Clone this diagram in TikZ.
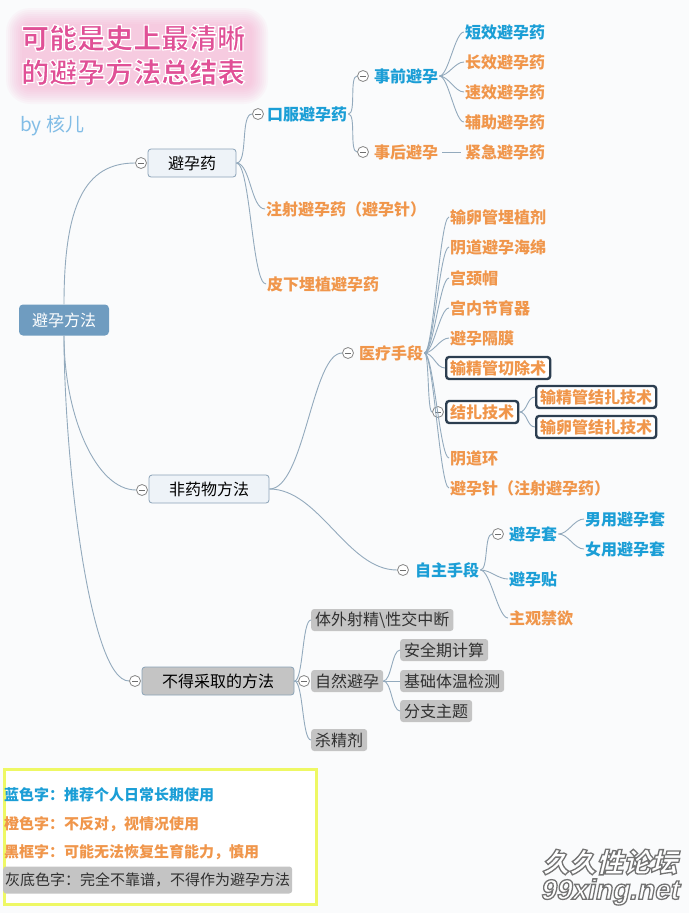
\documentclass[tikz,border=0pt]{standalone}
\usepackage{fontspec}
\setmainfont{Noto Sans CJK SC}
\newfontfamily\wmfont{Noto Sans CJK SC}[FakeSlant=0.25]
\newfontfamily\wmlat{Liberation Sans}[FakeSlant=0.2]
\definecolor{bg}{RGB}{250,251,252}
\definecolor{mblue}{RGB}{27,158,214}
\definecolor{morange}{RGB}{240,150,75}
\definecolor{linkc}{RGB}{147,170,189}
\definecolor{rootc}{RGB}{111,156,192}
\definecolor{lvl1}{RGB}{238,243,248}
\definecolor{lvl1d}{RGB}{139,163,183}
\definecolor{grayf}{RGB}{196,196,196}
\definecolor{gtext}{RGB}{48,48,48}
\definecolor{cring}{RGB}{135,135,135}
\definecolor{cminus}{RGB}{110,110,110}
\definecolor{darkb}{RGB}{44,62,80}
\definecolor{pinkt}{RGB}{224,80,150}
\definecolor{pinkg}{RGB}{246,140,190}
\definecolor{legy}{RGB}{238,248,100}
\definecolor{byc}{RGB}{130,189,230}
\tikzset{
  link/.style={draw=linkc, line width=0.9pt},
  ttl/.style={anchor=west, inner sep=0pt, font=\fontsize{28}{30}\selectfont\bfseries},
  rootbox/.style={rectangle, rounded corners=4pt, fill=rootc, text=white, minimum width=90pt, minimum height=31pt, font=\fontsize{16}{18}\selectfont},
  lvbox/.style={rectangle, rounded corners=3pt, fill=lvl1, draw=lvl1d, line width=0.8pt, minimum height=28pt, font=\fontsize{16}{18}\selectfont},
  lvgray/.style={lvbox, fill=grayf},
  bl/.style={anchor=west, inner sep=1pt, text=mblue, font=\fontsize{16}{18}\selectfont\bfseries},
  og/.style={anchor=west, inner sep=1pt, text=morange, font=\fontsize{16}{18}\selectfont\bfseries},
  boxed/.style={og, draw=darkb, line width=2.4pt, rounded corners=3pt, fill=white, inner xsep=4pt, minimum height=22pt, inner ysep=0pt},
  gbox/.style={anchor=west, rectangle, rounded corners=3pt, fill=grayf, text=gtext, inner xsep=4pt, inner ysep=0pt, minimum height=22pt, font=\fontsize{16}{18}\selectfont},
  collapse/.style={circle, draw=cring, fill=white, line width=0.8pt, minimum size=11pt, inner sep=0pt,
    path picture={\draw[cminus, line width=0.8pt] ([xshift=-3pt]path picture bounding box.center) -- ([xshift=3pt]path picture bounding box.center);}},
  leg/.style={anchor=west, inner sep=1pt, font=\fontsize{15}{17}\selectfont\bfseries},
  wm/.style={anchor=west, inner sep=0pt, text=white},
}
\newcommand\lnk[3][12]{\draw[link] (#2) .. controls +(#1,0) and +(-#1,0) .. (#3);}
\newcommand\stroked[1]{\special{pdf:literal direct 2 Tr 1.3 w 0.45 0.45 0.45 RG}#1\special{pdf:literal direct 0 Tr}}
\newcommand\whiteline[1]{\special{pdf:literal direct 2 Tr 1.2 w 1 1 1 RG}#1\special{pdf:literal direct 0 Tr}}
\begin{document}
\begin{tikzpicture}[x=1pt,y=-1pt]
\useasboundingbox (0,0) rectangle (689,913);
\fill[bg] (0,0) rectangle (689,913);

% title with glow
\foreach \r in {16,14,...,0} {
  \fill[pinkg, opacity=0.055, rounded corners={\r+8}] ({22-\r},{24-\r}) rectangle ({252+\r},{88+\r});
}
\node[ttl, text=pinkt] (title1) at (21,38) {\whiteline{可能是史上最清晰}};
\node[ttl, text=pinkt] (title2) at (21,72) {\whiteline{的避孕方法总结表}};
\node[anchor=west, inner sep=0pt, text=byc, font=\fontsize{19}{21}\selectfont] (by) at (20,126) {by 核儿};

% root
\node[rootbox] (root) at (64,320) {避孕方法};

% level 1
\node[lvbox, minimum width=88pt] (b1) at (192,163) {避孕药};
\node[lvbox, minimum width=120pt] (b2) at (209,489) {非药物方法};
\node[lvgray, minimum width=152pt] (b3) at (218,681) {不得采取的方法};
\node[collapse] (c1) at (141,163) {};
\node[collapse] (c2) at (142,490) {};
\node[collapse] (c3) at (135,681) {};
\draw[link] (root.north) .. controls +(0,-100) and +(-50,0) .. (c1.west);
\draw[link] (root.south) .. controls +(0,80) and +(-40,0) .. (c2.west);
\draw[link] (root.south) .. controls +(0,120) and +(-40,0) .. (c3.west);

% 避孕药 branch
\node[collapse] (c11) at (258,114) {};
\node[bl] (kf) at (266,114) {口服避孕药};
\node[og] (zs) at (265,209) {注射避孕药（避孕针）};
\node[og] (px) at (266,284) {皮下埋植避孕药};
\lnk[12]{b1.east}{c11.west}
\lnk[14]{b1.east}{zs.west}
\lnk[14]{b1.east}{px.west}

\node[collapse] (c111) at (363,76) {};
\node[collapse] (c112) at (363,152) {};
\node[bl] (sq) at (373,76) {事前避孕};
\node[og] (sh) at (373,152) {事后避孕};
\lnk[8]{kf.east}{c111.west}
\lnk[8]{kf.east}{c112.west}

\node[bl] (dx) at (464,32) {短效避孕药};
\node[og] (cx) at (464,62) {长效避孕药};
\node[og] (sx) at (464,92) {速效避孕药};
\node[og] (fz) at (464,122) {辅助避孕药};
\node[og] (jj) at (464,152) {紧急避孕药};
\foreach \n in {dx,cx,sx,fz} { \lnk[9]{sq.east}{\n.west} }
\draw[link] ([xshift=3pt]sh.east) -- ([xshift=-3pt]jj.west);

% 非药物方法 branch
\node[collapse] (c21) at (348,353) {};
\node[og] (yl) at (358,353) {医疗手段};
\node[collapse] (c22) at (403,570) {};
\node[bl] (zz) at (414,570) {自主手段};
\draw[link] (b2.east) .. controls +(35,0) and +(-30,0) .. (c21.west);
\draw[link] (b2.east) .. controls +(50,0) and +(-50,0) .. (c22.west);

\node[og] (m1) at (449,217) {输卵管埋植剂};
\node[og] (m2) at (449,247) {阴道避孕海绵};
\node[og] (m3) at (449,278) {宫颈帽};
\node[og] (m4) at (449,308) {宫内节育器};
\node[og] (m5) at (449,338) {避孕隔膜};
\node[boxed] (m6) at (445,368) {输精管切除术};
\node[collapse] (cjz) at (438,412) {};
\node[boxed] (m7) at (445,412) {结扎技术};
\node[og] (m8) at (449,458) {阴道环};
\node[og] (m9) at (449,488) {避孕针（注射避孕药）};
\foreach \n in {m1,m2,m3,m4,m5,m6,m8,m9} { \lnk[9]{yl.east}{\n.west} }
\lnk[5]{yl.east}{cjz.west}
\node[boxed] (jz1) at (535,397) {输精管结扎技术};
\node[boxed] (jz2) at (535,427) {输卵管结扎技术};
\lnk[8]{m7.east}{jz1.west}
\lnk[8]{m7.east}{jz2.west}

\node[collapse] (c221) at (498,534) {};
\node[bl] (byt) at (508,534) {避孕套};
\node[bl] (byt2) at (508,579) {避孕贴};
\node[og] (jy) at (508,618) {主观禁欲};
\lnk[8]{zz.east}{c221.west}
\lnk[10]{zz.east}{byt2.west}
\lnk[10]{zz.east}{jy.west}
\node[bl] (ny) at (584,519) {男用避孕套};
\node[bl] (vy) at (584,549) {女用避孕套};
\lnk[10]{byt.east}{ny.west}
\lnk[10]{byt.east}{vy.west}

% 不得采取的方法 branch
\node[gbox] (g1) at (311,620) {体外射精\textbackslash 性交中断};
\node[collapse] (c31) at (304,681) {};
\node[gbox] (g2) at (311,681) {自然避孕};
\node[gbox] (g3) at (311,740) {杀精剂};
\lnk[9]{b3.east}{g1.west}
\lnk[4]{b3.east}{c31.west}
\lnk[9]{b3.east}{g3.west}
\node[gbox] (g21) at (400,650) {安全期计算};
\node[gbox] (g22) at (400,681) {基础体温检测};
\node[gbox] (g23) at (400,711) {分支主题};
\lnk[8]{g2.east}{g21.west}
\lnk[8]{g2.east}{g22.west}
\lnk[8]{g2.east}{g23.west}

% legend
\draw[legy, line width=3pt, fill=white] (4,769) rectangle (316,904);
\node[leg, text=mblue] (l1) at (3,795) {蓝色字：推荐个人日常长期使用};
\node[leg, text=morange] (l2) at (3,824) {橙色字：不反对，视情况使用};
\node[leg, text=morange] (l3) at (3,852) {黑框字：可能无法恢复生育能力，慎用};
\node[gbox, font=\fontsize{15}{17}\selectfont, minimum height=27pt, inner xsep=2pt] (l4) at (3,880) {灰底色字：完全不靠谱，不得作为避孕方法};

% watermark
\node[wm, font=\wmfont\fontsize{27}{29}\selectfont\bfseries] (wm1) at (542,862) {\stroked{久久性论坛}};
\node[wm, font=\wmlat\fontsize{28}{30}\selectfont\bfseries] (wm2) at (540,892) {\stroked{99xing.net}};
\end{tikzpicture}
\end{document}
